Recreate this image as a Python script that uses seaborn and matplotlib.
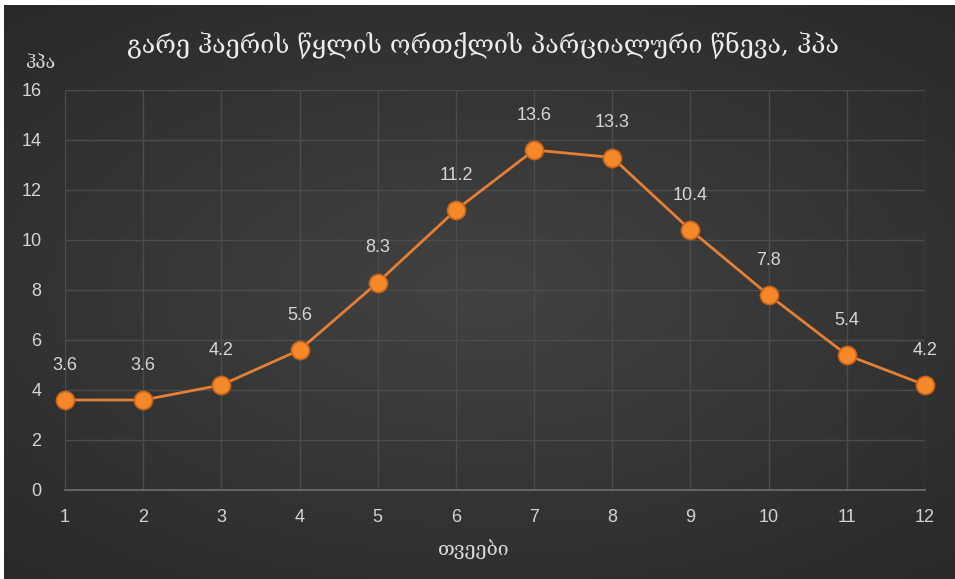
import numpy as np
import pandas as pd
import matplotlib
matplotlib.use("Agg")
import matplotlib.pyplot as plt
import seaborn as sns

# Monthly values
months = [1, 2, 3, 4, 5, 6, 7, 8, 9, 10, 11, 12]
pressure = [3.6, 3.6, 4.2, 5.6, 8.3, 11.2, 13.6, 13.3, 10.4, 7.8, 5.4, 4.2]
y_ticks = [0, 2, 4, 6, 8, 10, 12, 14, 16]

title_text = "გარე ჰაერის წყლის ორთქლის პარციალური წნევა, ჰპა"
unit_text = "ჰპა"
xlabel_text = "თვეები"

df = pd.DataFrame({"month": months, "value": pressure})

sns.set_theme(style="dark")
plt.rcParams["font.family"] = ["DejaVu Serif", "DejaVu Sans"]

W, H = 955, 579
fig = plt.figure(figsize=(W / 100, H / 100), dpi=100)
fig.patch.set_facecolor("white")

# Radial-gradient dark backdrop
bg = fig.add_axes([4 / W, 0, (W - 4) / W, (H - 5) / H])
yy, xx = np.mgrid[-1:1:300j, -1:1:500j]
r = np.sqrt((xx * 0.9) ** 2 + (yy * 1.0) ** 2)
shade = np.clip(1 - r / 1.35, 0, 1)
base = 0.16 + 0.10 * shade
img = np.dstack([base, base, base])
bg.imshow(img, aspect="auto", extent=[0, 1, 0, 1], interpolation="bilinear")
bg.set_axis_off()

ax = fig.add_axes([65 / W, 89 / H, 860 / W, 400 / H])
ax.set_facecolor("none")

sns.lineplot(data=df, x="month", y="value", ax=ax, color="#e47f35",
             linewidth=2.0, marker="o", markersize=13,
             markerfacecolor="#f5892a", markeredgecolor="#c9631a",
             markeredgewidth=1.2, zorder=5, clip_on=False)

ax.set_xlim(1, 12)
ax.set_ylim(0, 16)
ax.set_xticks(months)
ax.set_yticks(y_ticks)
ax.grid(True, color="#4c4c4c", linewidth=1.0)
for s in ["top", "right", "left"]:
    ax.spines[s].set_visible(False)
ax.spines["bottom"].set_visible(True)
ax.spines["bottom"].set_color("#6a6a6a")
ax.spines["bottom"].set_linewidth(1.3)

num_font = ["Liberation Sans", "DejaVu Sans"]
ax.tick_params(axis="both", length=0, colors="#d4d4d4", labelsize=13)
ax.tick_params(axis="x", pad=14)
ax.tick_params(axis="y", pad=17)
for lbl in ax.get_xticklabels() + ax.get_yticklabels():
    lbl.set_family(num_font)
ax.set_xlabel("")
ax.set_ylabel("")

for m, v in zip(months, pressure):
    ax.annotate(f"{v}", (m, v), xytext=(0, 19), textcoords="offset points",
                ha="center", va="bottom", color="#d6d6d6", fontsize=13,
                family=num_font, zorder=6)

fig.text(483 / W, 1 - 45 / H, title_text, ha="center", va="center",
         color="#ececec", fontsize=18)
fig.text(40 / W, 1 - 63 / H, unit_text, ha="center", va="center",
         color="#d8d8d8", fontsize=13)
fig.text(474 / W, 1 - 549 / H, xlabel_text, ha="center", va="center",
         color="#d8d8d8", fontsize=14)

fig.savefig("out.png", dpi=100, facecolor=fig.get_facecolor())
